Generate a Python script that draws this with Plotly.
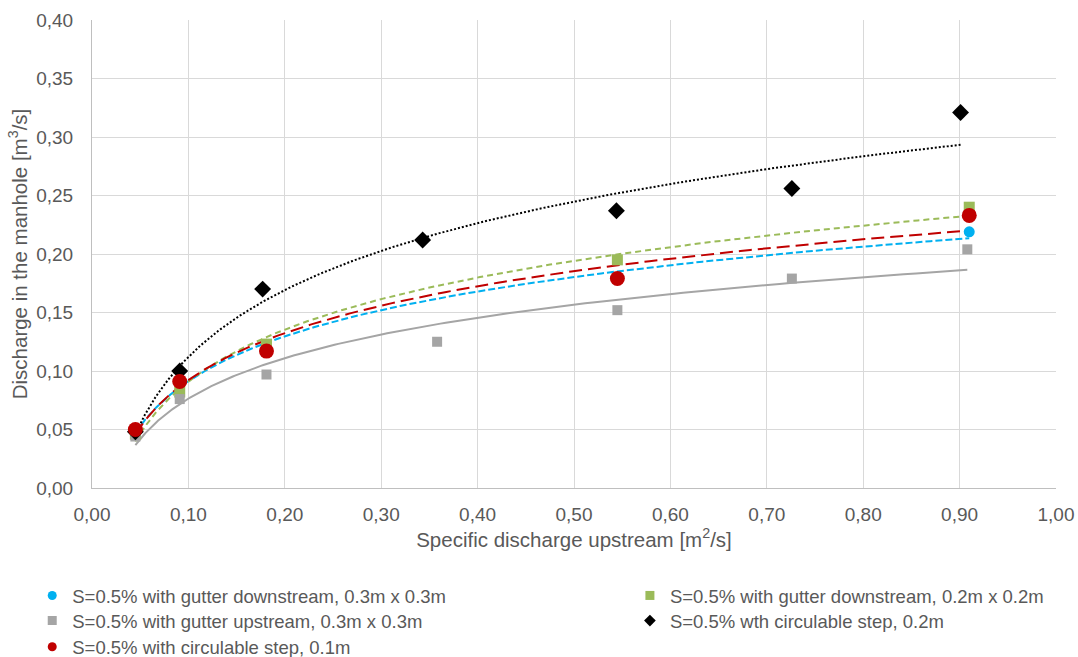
import numpy as np
import plotly.graph_objects as go

# ---- data ----
x_blue = [0.045, 0.091, 0.181, 0.545, 0.910]
y_blue = [0.048, 0.089, 0.120, 0.180, 0.219]

x_green = [0.045, 0.091, 0.181, 0.545, 0.910]
y_green = [0.046, 0.082, 0.123, 0.195, 0.240]

x_grey = [0.045, 0.091, 0.181, 0.358, 0.545, 0.726, 0.908]
y_grey = [0.044, 0.076, 0.097, 0.125, 0.152, 0.179, 0.204]

x_black = [0.045, 0.091, 0.177, 0.343, 0.544, 0.726, 0.901]
y_black = [0.048, 0.100, 0.170, 0.212, 0.237, 0.256, 0.321]

x_red = [0.045, 0.091, 0.181, 0.545, 0.910]
y_red = [0.050, 0.091, 0.117, 0.179, 0.233]

names = [
    "S=0.5% with gutter downstream, 0.3m x 0.3m",
    "S=0.5% with gutter downstream, 0.2m x 0.2m",
    "S=0.5% with gutter upstream, 0.3m x 0.3m",
    "S=0.5% wth circulable step, 0.2m",
    "S=0.5% with circulable step, 0.1m",
]

x_ticks = [0.0, 0.1, 0.2, 0.3, 0.4, 0.5, 0.6, 0.7, 0.8, 0.9, 1.0]
y_ticks = [0.0, 0.05, 0.10, 0.15, 0.20, 0.25, 0.30, 0.35, 0.40]

FONT = "Liberation Sans, Arial, sans-serif"
TXT = "#595959"

series = [
    dict(x=x_blue, y=y_blue, name=names[0], color="#00B0F0", symbol="circle", size=11, legend="legend",
         dash="7px,3px"),
    dict(x=x_green, y=y_green, name=names[1], color="#9BBB59", symbol="square", size=11, legend="legend2",
         dash="6px,4px"),
    dict(x=x_grey, y=y_grey, name=names[2], color="#A5A5A5", symbol="square", size=10, legend="legend3",
         dash="solid"),
    dict(x=x_black, y=y_black, name=names[3], color="#000000", symbol="diamond", size=13, legend="legend4",
         dash="2px,2px"),
    dict(x=x_red, y=y_red, name=names[4], color="#C00000", symbol="circle", size=15, legend="legend5",
         dash="13px,6px"),
]

fig = go.Figure()

# logarithmic trendlines (least squares on ln x, like the spreadsheet's trendline)
for s in series:
    xa = np.array(s["x"])
    ya = np.array(s["y"])
    a, b = np.polyfit(np.log(xa), ya, 1)
    xt = np.exp(np.linspace(np.log(xa.min()), np.log(xa.max()), 200))
    fig.add_trace(go.Scatter(x=xt, y=a * np.log(xt) + b, mode="lines",
                             line=dict(color=s["color"], width=2, dash=s["dash"]),
                             showlegend=False, hoverinfo="skip"))

# markers
for s in series:
    fig.add_trace(go.Scatter(x=s["x"], y=s["y"], mode="markers",
                             marker=dict(color=s["color"], symbol=s["symbol"], size=s["size"],
                                         line=dict(width=0)),
                             name=s["name"], showlegend=False))

# legend-only entries
for s in series:
    fig.add_trace(go.Scatter(x=[None], y=[None], mode="markers",
                             marker=dict(color=s["color"], symbol=s["symbol"], size=9),
                             name=s["name"], legend=s["legend"]))

axis_common = dict(showgrid=True, gridcolor="#D9D9D9", gridwidth=1,
                   zeroline=False, showline=True, linecolor="#BFBFBF", linewidth=1,
                   ticks="", tickfont=dict(family=FONT, size=19, color=TXT),
                   tickformat=".2f", mirror=False)

LEG_FONT = dict(family=FONT, size=18.5, color=TXT)


def leg(x, y):
    return dict(x=x, y=y, xanchor="left", yanchor="top", orientation="v",
                font=LEG_FONT, bgcolor="rgba(0,0,0,0)")


COL1, COL2 = -0.062, 0.558
ROW1, ROW2, ROW3 = -0.19, -0.2436, -0.2996

fig.update_layout(
    width=1078, height=657,
    paper_bgcolor="white", plot_bgcolor="white",
    separators=", ",
    margin=dict(l=92, r=22, t=20, b=169, autoexpand=False),
    font=dict(family=FONT, size=18, color=TXT),
    xaxis=dict(range=[0, 1.0], tickvals=x_ticks, ticklabelstandoff=9, **axis_common,
               title=dict(text="Specific discharge upstream [m<sup>2</sup>/s]",
                          font=dict(family=FONT, size=20.5, color=TXT), standoff=8)),
    yaxis=dict(range=[0, 0.40], tickvals=y_ticks, ticklabelstandoff=14, **axis_common,
               title=dict(text="Discharge in the manhole [m<sup>3</sup>/s]",
                          font=dict(family=FONT, size=20.5, color=TXT), standoff=3)),
    legend=leg(COL1, ROW1),
    legend2=leg(COL2, ROW1),
    legend3=leg(COL1, ROW2),
    legend4=leg(COL2, ROW2),
    legend5=leg(COL1, ROW3),
)

fig.write_html("out.html", config={"displayModeBar": False},
               post_script="document.body.style.margin='0';document.body.style.overflow='hidden';")
